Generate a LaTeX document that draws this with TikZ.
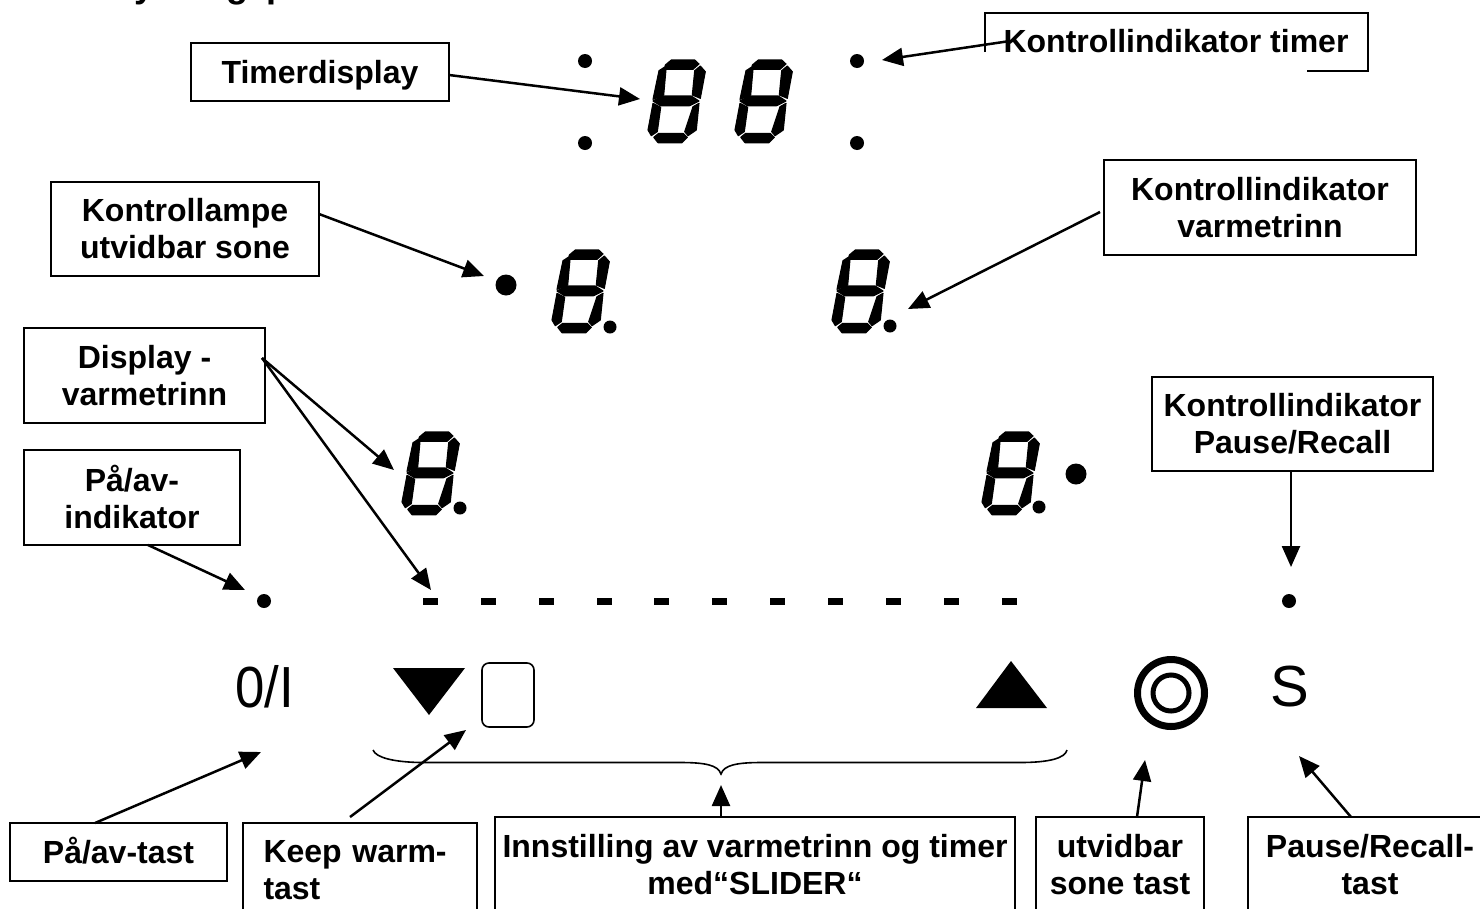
\documentclass[tikz,border=0pt]{standalone}
\usepackage{graphicx}
\usepackage{fontspec}
\setmainfont{Liberation Sans}
\usetikzlibrary{arrows.meta}
\tikzset{
  lbl/.style={draw=black,line width=2pt,fill=white,inner sep=0pt,align=center,font=\bfseries\fontsize{32}{37}\selectfont},
  arr/.style={line width=2.5pt,-{Triangle[length=21pt,width=18pt]}},
  seg/.style={fill=black,draw=black,line width=1.1pt,line join=round},
  dotk/.style={circle,fill=black,inner sep=0pt,minimum size=#1},
  dashk/.style={fill=black,inner sep=0pt,minimum width=15pt,minimum height=7pt},
  sym/.style={inner sep=0pt,font=\fontsize{58}{58}\selectfont},
  sevenseg/.pic={
    \path[seg] (17.3,5)--(23.3,0)--(46.7,0)--(51,4)--(45,9.3)--(16.7,9.3)--cycle;
    \path[seg] (5,41)--(13.3,36)--(43.3,36)--(51,41)--(41.7,45.7)--(12.3,45.7)--cycle;
    \path[seg] (5.7,77.3)--(10.7,73.3)--(35,73.3)--(39.3,77.3)--(34,82.7)--(10,82.7)--cycle;
    \path[seg] (11,10.7)--(18.3,6)--(15.7,35)--(5,39.3)--cycle;
    \path[seg] (52.3,6)--(57.3,11.7)--(52.3,38.3)--(44.3,35)--(46.7,10.7)--cycle;
    \path[seg] (5,43.3)--(12.7,47.3)--(9.3,71.7)--(3.3,75.7)--(0,70)--cycle;
    \path[seg] (45,46.7)--(51,43.3)--(48.3,70)--(40,75.7)--(36.7,71.7)--cycle;
  }
}
\begin{document}
\begin{tikzpicture}[x=1pt,y=-1pt]
\useasboundingbox (0,0) rectangle (1480,908);
\fill[white] (0,0) rectangle (1480,908);
% clipped title remnants at the top edge
\begin{scope}
\clip (0,0) rectangle (1480,908);
\node[anchor=base,inner sep=0pt,font=\bfseries\fontsize{36}{36}\selectfont] (ty) at (145,-3) {y};
\node[anchor=base,inner sep=0pt,font=\bfseries\fontsize{36}{36}\selectfont] (tg) at (237,-3) {g};
\node[anchor=base,inner sep=0pt,font=\bfseries\fontsize{36}{36}\selectfont] (tp) at (277,-3) {p};
\end{scope}
% seven segment digits
\pic at (648,60) {sevenseg};
\pic at (735,60) {sevenseg};
\pic at (552,250) {sevenseg};
\pic at (832,250) {sevenseg};
\pic at (402,432) {sevenseg};
\pic at (982,432) {sevenseg};
% dots
\node[dotk=14pt] (d1) at (585,61) {};
\node[dotk=14pt] (d2) at (585,143) {};
\node[dotk=14pt] (d3) at (857,61) {};
\node[dotk=14pt] (d4) at (857,143) {};
\node[dotk=13pt] (d5) at (610,327) {};
\node[dotk=13pt] (d6) at (890,326) {};
\node[dotk=13pt] (d7) at (460,508) {};
\node[dotk=13pt] (d8) at (1039,507) {};
\node[dotk=21pt] (d9) at (506,285) {};
\node[dotk=21pt] (d10) at (1076,474) {};
\node[dotk=14pt] (d11) at (264,601) {};
\node[dotk=14pt] (d12) at (1289,601) {};
\foreach \i/\x in {1/430,2/488,3/546,4/604,5/661,6/719,7/777,8/835,9/893,10/951,11/1009}
  \node[dashk] (dash\i) at (\x,601) {};
% keys
\node[sym] (onoff) at (264.5,687) {\scalebox{0.91}[1]{0/I}};
\node[sym] (pausekey) at (1290,687) {S};
\fill (393,668)--(465,668)--(429,715)--cycle;
\draw[line width=1.6pt,rounded corners=7pt] (482,663) rectangle (534,727);
\fill (976,708)--(1047,708)--(1011,661)--cycle;
\draw[line width=7pt] (1171,693) circle (33.5);
\draw[line width=5pt] (1171,693) circle (18);
% brace
\draw[line width=1.6pt] (373,750) .. controls (376,758) and (395,762) .. (420,762.5) -- (680,762.5) .. controls (705,762.5) and (718,765) .. (721,774) .. controls (724,765) and (737,762.5) .. (762,762.5) -- (1020,762.5) .. controls (1050,762.5) and (1065,758) .. (1067,750);
% label boxes
\node[lbl,minimum width=258pt,minimum height=58pt,text height=22pt,text depth=0pt] (timer) at (320,72) {Timerdisplay};
\node[lbl,minimum width=268pt,minimum height=94pt] (lampe) at (185,229) {Kontrollampe\\utvidbar sone};
\node[lbl,minimum width=312pt,minimum height=95pt] (kvarme) at (1260,207.5) {Kontrollindikator\\varmetrinn};
\node[lbl,minimum width=241pt,minimum height=95pt] (dvarme) at (144.5,375.5) {Display -\\varmetrinn};
\node[lbl,minimum width=216pt,minimum height=95pt] (pind) at (132,497.5) {\raisebox{2pt}{På/av-}\\\raisebox{2pt}{indikator}};
\node[lbl,minimum width=281pt,minimum height=94pt] (kpause) at (1292.5,424) {Kontrollindikator\\Pause/Recall};
\node[lbl,minimum width=217pt,minimum height=58pt,text height=22pt,text depth=0pt] (ptast) at (118.5,852) {På/av-tast};
\node[lbl,minimum width=234pt,minimum height=95pt,text width=214pt,align=left] (kw) at (360,870) {\hspace*{10.5pt}Keep warm-\\\hspace*{10.5pt}tast};
\node[lbl,minimum width=520pt,minimum height=96pt] (slider) at (755,865) {Innstilling av varmetrinn og timer\\med“SLIDER“};
\node[lbl,minimum width=168pt,minimum height=96pt] (utv) at (1120,865) {utvidbar\\sone tast};
\node[lbl,minimum width=244pt,minimum height=96pt] (prtast) at (1370,865) {Pause/Recall-\\tast};
% Kontrollindikator timer: partly hidden box
\draw[line width=2pt] (985,52) -- (985,13) -- (1368,13) -- (1368,71) -- (1307,71);
\coordinate (ktfrom) at (1010,41);
\draw[arr] (ktfrom) -- (882,60);
\begin{scope}
\clip (985,0) rectangle (1368,52.5);
\node[inner sep=0pt,font=\bfseries\fontsize{32}{37}\selectfont,anchor=base] (ktimer) at (1176,52) {Kontrollindikator timer};
\end{scope}
% connectors
\coordinate (a1) at (449,75);  \coordinate (b1) at (640,99);
\coordinate (a2) at (319,214); \coordinate (b2) at (484,276);
\coordinate (a3) at (1100,212);\coordinate (b3) at (908,309);
\coordinate (a4) at (262,358); \coordinate (b4) at (394,470); \coordinate (b5) at (431,590);
\coordinate (a6) at (148,545); \coordinate (b6) at (245,590);
\coordinate (a7) at (1291,471);\coordinate (b7) at (1291,567);
\coordinate (a8) at (95,823);  \coordinate (b8) at (261,752);
\coordinate (a9) at (350,817); \coordinate (b9) at (466,730);
\coordinate (a10) at (721,817);\coordinate (b10) at (721,785);
\coordinate (a11) at (1137,817);\coordinate (b11) at (1145,760);
\coordinate (a12) at (1351,817);\coordinate (b12) at (1299,756);
\foreach \i/\j in {a1/b1,a2/b2,a3/b3,a4/b4,a4/b5,a6/b6,a7/b7,a8/b8,a9/b9,a10/b10,a11/b11,a12/b12}
  \draw[arr] (\i) -- (\j);
\end{tikzpicture}
\end{document}
